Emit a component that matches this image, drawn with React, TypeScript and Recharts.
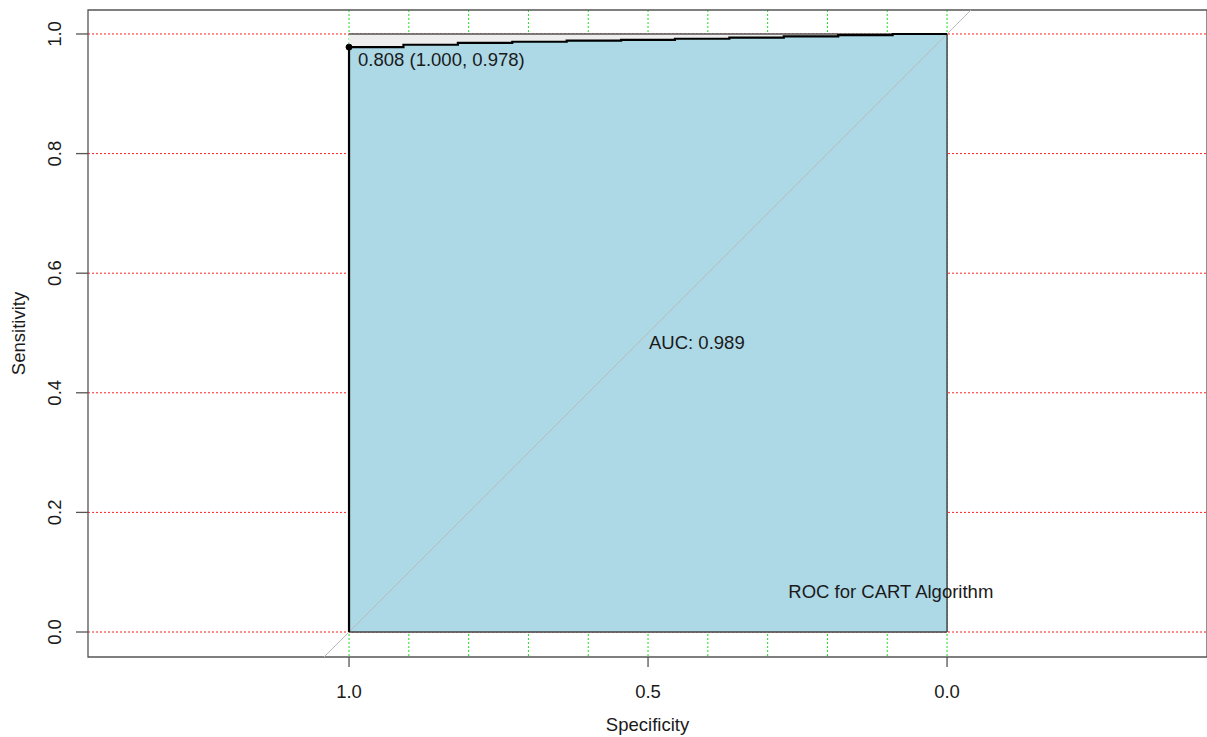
import React from "react";
import {
  ComposedChart,
  Area,
  Line,
  XAxis,
  YAxis,
  CartesianGrid,
  ReferenceLine,
  ReferenceDot,
  ReferenceArea,
} from "recharts";

// ROC curve: specificity breakpoints and sensitivity level per step
const specSteps = [1, 0.909, 0.818, 0.727, 0.636, 0.545, 0.455, 0.364, 0.273, 0.182, 0.091, 0];
const sensLevels = [0.978, 0.982, 0.985, 0.987, 0.989, 0.99, 0.992, 0.994, 0.996, 0.998, 1.0];

const xTicks = [1, 0.5, 0];
const yTicks = [0, 0.2, 0.4, 0.6, 0.8, 1.0];
const gridX = [1, 0.9, 0.8, 0.7, 0.6, 0.5, 0.4, 0.3, 0.2, 0.1, 0];

const bestThreshold = { threshold: 0.808, spec: 1.0, sens: 0.978 };
const aucValue = 0.989;
const title = "ROC for CART Algorithm";

const X_DOMAIN: [number, number] = [-0.4347, 1.4365];
const Y_DOMAIN: [number, number] = [-0.0418, 1.0401];

const FONT = "'Liberation Sans', Arial, sans-serif";
const FS = 18.5;

// corner points of the stair curve, starting at (1, 0)
const curve: { spec: number; sens: number; top: number }[] = [{ spec: 1, sens: 0, top: 1 }];
sensLevels.forEach((s, i) => {
  curve.push({ spec: specSteps[i], sens: s, top: 1 });
  curve.push({ spec: specSteps[i + 1], sens: s, top: 1 });
});

const XTick = (props: any) => {
  const { x, y, payload } = props;
  return (
    <text x={x} y={y + 29} textAnchor="middle" fontSize={FS} fontFamily={FONT} fill="#1a1a1a">
      {Number(payload.value).toFixed(1)}
    </text>
  );
};

const YTick = (props: any) => {
  const { x, y, payload } = props;
  const bx = x - 13;
  return (
    <text
      x={bx}
      y={y}
      transform={`rotate(-90, ${bx}, ${y})`}
      textAnchor="middle"
      fontSize={FS}
      fontFamily={FONT}
      fill="#1a1a1a"
    >
      {Number(payload.value).toFixed(1)}
    </text>
  );
};

export default function App() {
  return (
    <div style={{ position: "absolute", left: 0, top: 0, width: 1207, height: 737, background: "#fff" }}>
      <ComposedChart
        width={1207}
        height={737}
        data={curve}
        margin={{ top: 10, right: 0, bottom: 0, left: 0 }}
      >
        <CartesianGrid
          horizontal={false}
          vertical={{ shapeRendering: "crispEdges" } as any}
          verticalValues={gridX}
          stroke="#22dd22"
          strokeDasharray="2 2"
        />
        <CartesianGrid
          vertical={false}
          horizontal={{ shapeRendering: "crispEdges" } as any}
          horizontalValues={yTicks}
          stroke="#ff2020"
          strokeDasharray="2 2"
        />
        <XAxis
          dataKey="spec"
          type="number"
          domain={X_DOMAIN}
          reversed
          ticks={xTicks}
          tickSize={10}
          tickLine={{ stroke: "#555", strokeWidth: 1.3 }}
          axisLine={false}
          height={80}
          tick={<XTick />}
          interval={0}
          label={{
            content: (p: any) => {
              const vb = p.viewBox;
              return (
                <text x={vb.x + vb.width / 2} y={vb.y + 74} textAnchor="middle" fontSize={FS} fontFamily={FONT} fill="#1a1a1a">
                  Specificity
                </text>
              );
            },
          }}
        />
        <YAxis
          type="number"
          domain={Y_DOMAIN}
          ticks={yTicks}
          tickSize={12}
          tickLine={{ stroke: "#555", strokeWidth: 1.3 }}
          axisLine={false}
          width={88}
          tick={<YTick />}
          interval={0}
          label={{
            content: (p: any) => {
              const vb = p.viewBox;
              const cy = vb.y + vb.height / 2;
              return (
                <text x={25} y={cy} transform={`rotate(-90, 25, ${cy})`} textAnchor="middle" fontSize={FS} fontFamily={FONT} fill="#1a1a1a">
                  Sensitivity
                </text>
              );
            },
          }}
        />
        <Area
          dataKey="top"
          type="linear"
          baseValue={0}
          fill="#eeeeee"
          fillOpacity={1}
          stroke="#555"
          strokeWidth={1.5}
          isAnimationActive={false}
          dot={false}
          activeDot={false}
        />
        <Area
          dataKey="sens"
          type="linear"
          baseValue={0}
          fill="#add8e6"
          fillOpacity={1}
          stroke="none"
          isAnimationActive={false}
          dot={false}
          activeDot={false}
        />
        <ReferenceLine segment={[{ x: 1, y: 0 }, { x: 0, y: 0 }]} stroke="#444" strokeWidth={1.5} />
        <ReferenceLine segment={[{ x: 0, y: 0 }, { x: 0, y: 1 }]} stroke="#444" strokeWidth={1.5} />
        <ReferenceLine
          segment={[{ x: 1.0418, y: -0.0418 }, { x: -0.0401, y: 1.0401 }]}
          stroke="#bbbbbb"
          strokeWidth={1}
        />
        <Line
          dataKey="sens"
          type="linear"
          stroke="#000"
          strokeWidth={2.2}
          dot={false}
          activeDot={false}
          isAnimationActive={false}
        />
        <ReferenceArea
          x1={X_DOMAIN[0]}
          x2={X_DOMAIN[1]}
          y1={Y_DOMAIN[0]}
          y2={Y_DOMAIN[1]}
          fill="none"
          fillOpacity={0}
          stroke="#555"
          strokeWidth={1.3}
        />
        <ReferenceDot
          x={bestThreshold.spec}
          y={bestThreshold.sens}
          r={3}
          fill="#000"
          stroke="#000"
          label={{
            content: (p: any) => {
              const vb = p.viewBox;
              const cx = vb.x + (vb.width || 0) / 2;
              const cy = vb.y + (vb.height || 0) / 2;
              return (
                <text x={cx + 9} y={cy + 19} fontSize={FS} fontFamily={FONT} fill="#1a1a1a">
                  {`${bestThreshold.threshold.toFixed(3)} (${bestThreshold.spec.toFixed(3)}, ${bestThreshold.sens.toFixed(3)})`}
                </text>
              );
            },
          }}
        />
        <ReferenceDot
          x={0.5}
          y={0.5}
          r={0}
          fill="none"
          stroke="none"
          label={{
            content: (p: any) => {
              const vb = p.viewBox;
              const cx = vb.x + (vb.width || 0) / 2;
              const cy = vb.y + (vb.height || 0) / 2;
              return (
                <text x={cx + 1} y={cy + 16} fontSize={FS} fontFamily={FONT} fill="#1a1a1a">
                  {`AUC: ${aucValue.toFixed(3)}`}
                </text>
              );
            },
          }}
        />
        <ReferenceDot
          x={0.094}
          y={0.069}
          r={0}
          fill="none"
          stroke="none"
          label={{
            content: (p: any) => {
              const vb = p.viewBox;
              const cx = vb.x + (vb.width || 0) / 2;
              const cy = vb.y + (vb.height || 0) / 2;
              return (
                <text x={cx} y={cy + 7} textAnchor="middle" fontSize={FS} fontFamily={FONT} fill="#1a1a1a">
                  {title}
                </text>
              );
            },
          }}
        />
      </ComposedChart>
    </div>
  );
}
